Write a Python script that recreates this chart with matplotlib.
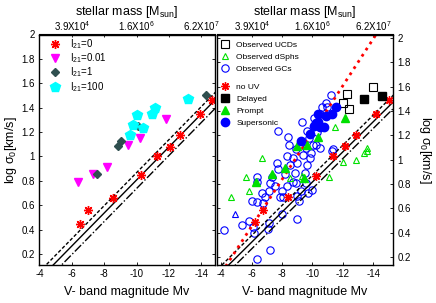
import matplotlib
matplotlib.use('Agg')
import matplotlib.pyplot as plt
from matplotlib.ticker import FormatStrFormatter

plt.rcParams['font.family'] = ['Liberation Sans', 'DejaVu Sans']
plt.rcParams['mathtext.fontset'] = 'custom'
plt.rcParams['mathtext.rm'] = 'Liberation Sans'
plt.rcParams['mathtext.it'] = 'Liberation Sans:italic'
plt.rcParams['mathtext.bf'] = 'Liberation Sans:bold'

# ---------------- data: left panel ----------------
l0_mv = [-6.51, -6.98, -8.57, -10.24, -11.27, -12.04, -12.69, -13.92, -14.63]
l0_sig = [0.45, 0.56, 0.66, 0.85, 1.00, 1.08, 1.18, 1.35, 1.46]
l001_mv = [-6.40, -7.32, -8.20, -9.49, -10.20, -11.82]
l001_sig = [0.79, 0.86, 0.91, 1.09, 1.15, 1.31]
l1_mv = [-7.53, -8.85, -9.06, -10.10, -14.27]
l1_sig = [0.855, 1.087, 1.125, 1.251, 1.502]
l100_mv = [-9.57, -9.80, -10.04, -10.41, -10.96, -11.12, -13.20]
l100_sig = [1.18, 1.257, 1.338, 1.234, 1.352, 1.394, 1.47]

fitL_mv = [-3.0, -16.0]
fitL_sig = [-0.14, 1.62]
fitL_up = [-0.08, 1.68]
fitL_lo = [-0.21, 1.55]

# ---------------- data: right panel ----------------
ucd_mv = [-12.25, -11.99, -12.43, -14.01]
ucd_sig = [1.54, 1.465, 1.42, 1.60]
dsph_mv = [-11.48, -13.57, -6.66, -5.63, -4.62, -5.84, -8.52, -9.29, -11.09,
           -12.03, -12.84, -13.38, -13.60]
dsph_sig = [1.27, 1.10, 1.015, 0.856, 0.69, 0.74, 0.85, 0.864, 0.856,
            0.98, 1.00, 1.055, 1.07]
bluetri_mv = [-4.90]
bluetri_sig = [0.556]
gc_mv = [-7.75, -8.37, -8.46, -9.29, -9.62, -9.75, -10.01, -10.23, -10.10, -10.28,
         -10.49, -10.60, -10.87, -10.97, -11.20, -11.33,
         -4.18, -5.34, -5.84, -6.10, -6.17, -6.33, -7.20, -7.16, -7.09, -7.97,
         -9.00, -9.99, -6.00, -6.33, -6.76, -6.33, -6.33, -6.66, -6.88, -7.16,
         -7.20, -7.32, -7.53, -7.64, -7.75, -7.86, -7.97, -8.08, -8.19, -8.30,
         -8.52, -8.74, -8.85, -8.92, -9.00, -9.13, -9.22, -9.39, -9.50, -9.57,
         -9.62, -9.72, -9.83, -9.93, -9.00, -8.74, -8.30, -11.26, -8.90, -9.55,
         -10.50]
gc_sig = [1.24, 1.19, 1.12, 1.31, 1.24, 1.18, 1.12, 1.12, 1.34, 1.23,
          1.38, 1.43, 1.47, 1.43, 1.53, 1.09,
          0.42, 0.46, 0.50, 0.45, 0.40, 0.18, 0.26, 0.48, 0.43, 0.55,
          0.51, 0.75, 0.66, 0.65, 0.64, 0.86, 0.82, 0.73, 0.69, 0.74,
          0.81, 0.86, 0.78, 0.97, 0.92, 0.69, 0.74, 0.69, 0.88, 1.03,
          0.96, 1.015, 0.89, 0.81, 0.70, 0.66, 0.74, 1.04, 0.89, 0.81,
          0.96, 0.73, 1.015, 1.055, 0.97, 0.82, 0.78, 1.07, 1.09, 1.10,
          1.10]
nouv_mv = [-6.22, -6.72, -8.41, -10.23, -11.37, -12.14, -12.84, -14.18, -15.05]
nouv_sig = [0.484, 0.59, 0.69, 0.87, 1.03, 1.115, 1.205, 1.378, 1.49]
delayed_mv = [-13.38, -14.55]
delayed_sig = [1.50, 1.525]
prompt_mv = [-9.00, -9.62, -10.39, -12.14, -6.28, -7.36, -8.19, -9.45]
prompt_sig = [1.11, 1.12, 1.19, 1.34, 0.82, 0.88, 0.93, 0.85]
super_mv = [-9.22, -9.83, -10.10, -10.35, -10.23, -10.49, -10.76, -10.89,
            -11.26, -11.53, -10.39]
super_sig = [1.15, 1.21, 1.28, 1.375, 1.30, 1.27, 1.27, 1.36, 1.38, 1.43, 1.31]

fitR_mv = [-3.0, -16.0]
fitR_sig = [-0.05, 1.56]
fitR_up = [0.005, 1.615]
fitR_lo = [-0.105, 1.505]
reddot_mv = [-3.5, -16.0]
reddot_sig = [-0.03, 2.38]

# ---------------- ticks ----------------
mv_ticks = [-4, -6, -8, -10, -12, -14]
sig_ticks = [0.2, 0.4, 0.6, 0.8, 1.0, 1.2, 1.4, 1.6, 1.8, 2.0]
mass_tick_mv = [-6, -8, -10, -12, -14]
mass_tick_labels = ['3.9X10$^4$', '', '1.6X10$^6$', '', '6.2X10$^7$']

RED = '#FF0000'
MAG = '#FF00FF'
SLATE = '#2F4F4F'
CYAN = '#00FFFF'
BLUE = '#0000FF'
GREEN = '#00E000'
STAR = (8, 2, 0)

fig = plt.figure(figsize=(4.36, 3.03), dpi=100)
axL = fig.add_axes([39 / 436, 1 - 265 / 303, 176 / 436, 230.5 / 303])
axR = fig.add_axes([217 / 436, 1 - 265 / 303, 176 / 436, 230.5 / 303])

for ax in (axL, axR):
    ax.tick_params(direction='in', length=2.5, width=0.6, labelsize=7,
                   top=False, right=True, left=True, pad=3)
    for s in ax.spines.values():
        s.set_linewidth(1.0)
    ax.set_xticks(mv_ticks)
    ax.set_xticklabels([str(t) for t in mv_ticks])
    ax.set_yticks(sig_ticks)
    ax.yaxis.set_major_formatter(FormatStrFormatter('%g'))
    ax.set_xlabel('V- band magnitude Mv', fontsize=9, labelpad=5)
    sec = ax.secondary_xaxis('top')
    sec.set_xticks(mass_tick_mv)
    sec.set_xticklabels(mass_tick_labels)
    sec.tick_params(direction='in', length=2.5, width=0.6, labelsize=7, pad=1)
    sec.set_xlabel('stellar mass [M$_{\\rm sun}$]', fontsize=9, labelpad=3)

# ---------------- left panel ----------------
axL.set_xlim(-3.97, -14.84)
axL.set_ylim(0.11, 2.0)
axL.plot(fitL_mv, fitL_sig, '-', color='k', lw=1.0)
axL.plot(fitL_mv, fitL_up, '--', color='k', lw=1.0, dashes=(2.5, 1.5))
axL.plot(fitL_mv, fitL_lo, '-.', color='k', lw=1.0)
axL.plot(l0_mv, l0_sig, ls='none', marker=STAR, ms=6.5, mew=1.0, color=RED, label='I$_{21}$=0')
axL.plot(l001_mv, l001_sig, ls='none', marker='v', ms=6, color=MAG, mec=MAG, label='I$_{21}$=0.01')
axL.plot(l1_mv, l1_sig, ls='none', marker='D', ms=4.5, color=SLATE, mec=SLATE, label='I$_{21}$=1')
axL.plot(l100_mv, l100_sig, ls='none', marker='p', ms=7.5, color=CYAN, mec=CYAN, label='I$_{21}$=100')
axL.set_ylabel('log σ$_0$[km/s]', fontsize=9, labelpad=2)
axL.legend(loc='upper left', frameon=False, fontsize=7, handlelength=1.2,
           handletextpad=0.9, labelspacing=0.05, borderaxespad=0.1, numpoints=1,
           bbox_to_anchor=(0.03, 1.01))

# ---------------- right panel ----------------
axR.set_xlim(-3.72, -15.3)
axR.set_ylim(0.134, 2.03)
axR.tick_params(labelleft=False, labelright=True)
h_gc, = axR.plot(gc_mv, gc_sig, ls='none', marker='o', ms=5.3, mfc='none', mec=BLUE, mew=0.8)
h_ds, = axR.plot(dsph_mv, dsph_sig, ls='none', marker='^', ms=5, mfc='none', mec=GREEN, mew=0.8)
axR.plot(bluetri_mv, bluetri_sig, ls='none', marker='^', ms=5, mfc='none', mec=BLUE, mew=0.8)
h_ucd, = axR.plot(ucd_mv, ucd_sig, ls='none', marker='s', ms=5.5, mfc='none', mec='k', mew=0.8)
axR.plot(fitR_mv, fitR_sig, '-', color='k', lw=1.0)
axR.plot(fitR_mv, fitR_up, '--', color='k', lw=1.0, dashes=(2.5, 1.5))
axR.plot(fitR_mv, fitR_lo, '-.', color='k', lw=1.0)
axR.plot(reddot_mv, reddot_sig, ':', color=RED, lw=2.0)
h_nouv, = axR.plot(nouv_mv, nouv_sig, ls='none', marker=STAR, ms=6, mew=1.0, color=RED)
h_del, = axR.plot(delayed_mv, delayed_sig, ls='none', marker='s', ms=5.5, color='k')
h_pr, = axR.plot(prompt_mv, prompt_sig, ls='none', marker='^', ms=6, color=GREEN, mec=GREEN)
h_su, = axR.plot(super_mv, super_sig, ls='none', marker='o', ms=6, color=BLUE, mec=BLUE)
axR.yaxis.set_label_position('right')
axR.set_ylabel('log σ$_0$[km/s]', fontsize=9, rotation=270, labelpad=16)

leg1 = axR.legend([h_ucd, h_ds, h_gc], ['Observed UCDs', 'Observed dSphs', 'Observed GCs'],
                  loc='upper left', frameon=False, fontsize=6, handlelength=1.0,
                  handletextpad=0.9, labelspacing=0.5, borderaxespad=0.0,
                  bbox_to_anchor=(0.0, 0.985), numpoints=1)
axR.add_artist(leg1)
axR.legend([h_nouv, h_del, h_pr, h_su], ['no UV', 'Delayed', 'Prompt', 'Supersonic'],
           loc='upper left', frameon=False, fontsize=6, handlelength=1.0,
           handletextpad=0.9, labelspacing=0.5, borderaxespad=0.0,
           bbox_to_anchor=(0.0, 0.805), numpoints=1)

fig.savefig('out.png', dpi=100)
